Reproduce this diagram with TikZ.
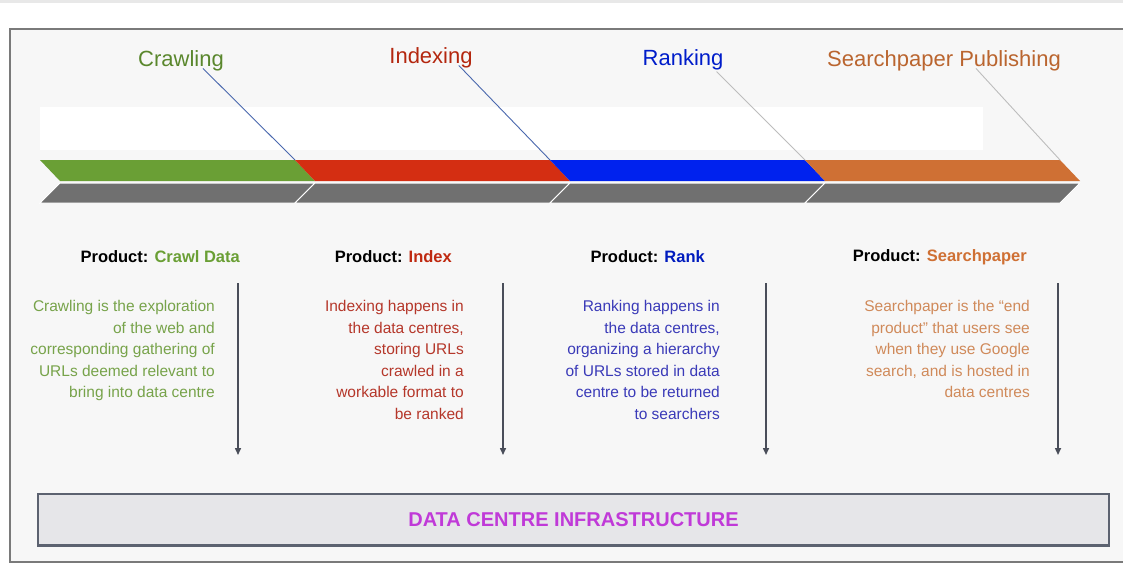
\documentclass[tikz,border=0pt]{standalone}
\usepackage{fontspec}
\setmainfont{Liberation Sans}
\usetikzlibrary{arrows.meta,positioning,calc}

\definecolor{crawlgreen}{HTML}{6A9F35}
\definecolor{indexred}{HTML}{D42E12}
\definecolor{rankblue}{HTML}{0022EE}
\definecolor{paperorange}{HTML}{CF7034}
\definecolor{bargray}{HTML}{707070}
\definecolor{framegray}{HTML}{7A7A7A}
\definecolor{panelgray}{HTML}{F7F7F7}
\definecolor{leaderblue}{HTML}{4A68AE}
\definecolor{leadergray}{HTML}{BDBDBD}
\definecolor{greentext}{HTML}{77A34A}
\definecolor{redtext}{HTML}{B5372A}
\definecolor{bluetext}{HTML}{3A3AB8}
\definecolor{orangetext}{HTML}{D08A5A}
\definecolor{infrafill}{HTML}{E6E6E9}
\definecolor{infraline}{HTML}{5C6270}
\definecolor{infratext}{HTML}{C03AD8}

\begin{document}
\begin{tikzpicture}[x=1pt,y=-1pt]
	\tikzstyle{phase}=[inner sep=0pt,font=\fontsize{22}{26}\selectfont]
	\tikzstyle{product}=[inner sep=0pt,anchor=east,font=\bfseries\fontsize{16.5}{20}\selectfont]
	\tikzstyle{about}=[inner sep=0pt,anchor=north east,align=right,font=\fontsize{15.5}{21.6}\selectfont]
	\tikzstyle{leader}=[line width=0.9pt]
	\tikzstyle{flow}=[line width=1.5pt,draw=infraline!80!black,arrows={-Triangle[length=7pt,width=6pt]}]
	\useasboundingbox (0,0) rectangle (1123,563);

	% page and frame
	\fill[white] (0,0) rectangle (1123,563);
	\fill[black!9] (0,0) rectangle (1123,3);
	\fill[panelgray] (10,29) rectangle (1123,562);
	\draw[framegray,line width=1.5pt] (1123,29) -- (10,29) -- (10,562) -- (1123,562);
	\fill[white] (40,107) rectangle (983,150);

	% timeline chevrons
	\foreach \i/\col in {0/crawlgreen,1/indexred,2/rankblue,3/paperorange}{
		\fill[\col] (40+255*\i,160) -- (295+255*\i,160) -- (315+255*\i,181) -- (60+255*\i,181) -- cycle;
		\filldraw[fill=bargray,draw=white,line width=1pt] (60+255*\i,183) -- (315+255*\i,183) -- (295+255*\i,203) -- (40+255*\i,203) -- cycle;
	}
	\coordinate (cut1) at (295,160);
	\coordinate (cut2) at (550,160);
	\coordinate (cut3) at (805,160);
	\coordinate (cut4) at (1060,160);

	% phase titles
	\node[phase,text=crawlgreen!85!black] (crawl) at (181,61) {Crawling};
	\node[phase,text=indexred!85!black] (index) at (431,58) {Indexing};
	\node[phase,text=rankblue!85!black] (rank) at (683,60) {Ranking};
	\node[phase,text=paperorange!90!black] (publish) at (944,61) {Searchpaper Publishing};

	\draw[leader,leaderblue] ($(crawl.south east)+(-21,-3)$) -- (cut1);
	\draw[leader,leaderblue] ($(index.south east)+(-14,-3)$) -- (cut2);
	\draw[leader,leadergray] ($(rank.south east)+(-7,1)$) -- (cut3);
	\draw[leader,leadergray] ($(publish.south east)+(-85,-3)$) -- (cut4);

	% products
	\node[product] (prod1) at (240,257) {Product: \textcolor{crawlgreen}{Crawl Data}};
	\node[product] (prod2) at (452,257) {Product: \textcolor{indexred!90!black}{Index}};
	\node[product] (prod3) at (705,257) {Product: \textcolor{rankblue!80!black}{Rank}};
	\node[product] (prod4) at (1027,257) {Product: \textcolor{paperorange}{Searchpaper}};

	% descriptions
	\node[about,text=greentext] (text1) at (215,300) {Crawling is the exploration\\of the web and\\corresponding gathering of\\URLs deemed relevant to\\bring into data centre};
	\node[about,text=redtext] (text2) at (464,300) {Indexing happens in\\the data centres,\\storing URLs\\crawled in a\\workable format to\\be ranked};
	\node[about,text=bluetext] (text3) at (720,300) {Ranking happens in\\the data centres,\\organizing a hierarchy\\of URLs stored in data\\centre to be returned\\to searchers};
	\node[about,text=orangetext] (text4) at (1030,300) {Searchpaper is the “end\\product” that users see\\when they use Google\\search, and is hosted in\\data centres};

	% flow arrows down to infrastructure
	\foreach \n/\x in {1/238,2/503,3/766,4/1058}{
		\coordinate (top\n) at (\x,283);
		\coordinate (bot\n) at (\x,455);
		\draw[flow] (top\n) -- (bot\n);
	}

	% infrastructure bar
	\node[draw=infraline,fill=infrafill,line width=1.5pt,minimum width=1071pt,minimum height=51pt,inner sep=0pt,
		text=infratext,font=\bfseries\fontsize{20}{24}\selectfont] (infra) at (573.5,519.5) {DATA CENTRE INFRASTRUCTURE};
	\draw[infraline,line width=3pt] (infra.south west) -- (infra.south east);
\end{tikzpicture}
\end{document}
